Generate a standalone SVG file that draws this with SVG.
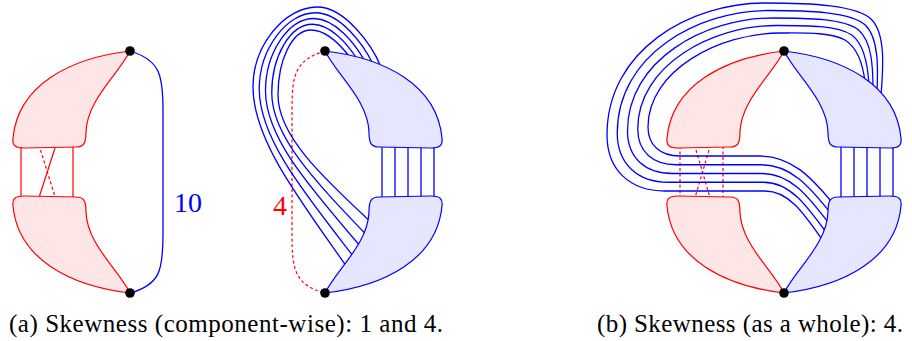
<svg xmlns="http://www.w3.org/2000/svg" xmlns:xlink="http://www.w3.org/1999/xlink" width="912" height="341" viewBox="0 0 912 341">
<style>
.rb{fill:#ffe6e6;stroke:#ff0000;stroke-width:1.2;stroke-linejoin:round}
.bb{fill:#e6e6ff;stroke:#0000ff;stroke-width:1.2;stroke-linejoin:round}
.bl{fill:none;stroke:#0000ff;stroke-width:1.3}
.rl{fill:none;stroke:#ff0000;stroke-width:1.2}
.rd{fill:none;stroke:#ff0000;stroke-width:1.2;stroke-dasharray:3 2.5}
.dot{fill:#000}
.tx{font-family:'Liberation Serif','Times New Roman',serif}
</style>
<defs>
<path id="blob" d="M0,0 C-60,7 -112,34 -117,87 C-118,95 -114,97 -106,97 L-54,96 C-46,96 -44,92 -44,81 C-43,49 -12,24 0,0 Z"/>
</defs>
<g id="connectors">
<path class="bl" d="M130,51 C160,60 163,75 163,110 L163,235 C163,270 160,285 130,293"/>
<line class="rl" x1="21" y1="146" x2="21" y2="198"/>
<line class="rl" x1="73" y1="146" x2="73" y2="198"/>
<line class="rl" x1="39.5" y1="196" x2="55" y2="148"/>
<line class="rd" x1="40.5" y1="150" x2="54.5" y2="195"/>
<path class="rd" d="M325,51 C295,60 292,75 292,110 L292,235 C292,270 295,285 325,293"/>
<g class="bl">
<line x1="382" y1="146" x2="382" y2="198"/>
<line x1="395" y1="146" x2="395" y2="198"/>
<line x1="408" y1="146" x2="408" y2="198"/>
<line x1="421" y1="146" x2="421" y2="198"/>
<line x1="434" y1="146" x2="434" y2="198"/>
<path d="M349,56 C338,42 325,30 311,30 C292,30 278,60 278,95 C278,135 320,175 373,224"/>
<path d="M357,58.75 C346.5,42.75 330,24.25 312.5,24.25 C290.25,24.25 271.75,56.25 271.75,93 C271.75,136.25 315,181.25 367,235.5"/>
<path d="M365,61.5 C355,43.5 335,18.5 314,18.5 C288.5,18.5 265.5,52.5 265.5,91 C265.5,137.5 310,187.5 361,247"/>
<path d="M373,64.25 C363.5,44.25 340,12.75 315.5,12.75 C286.75,12.75 259.25,48.75 259.25,89 C259.25,138.75 305,193.75 355,258.5"/>
<path d="M381,67 C372,45 345,7 317,7 C285,7 253,45 253,87 C253,140 300,200 349,270"/>
</g>
<line class="rd" x1="680" y1="146" x2="680" y2="198"/>
<line class="rd" x1="723" y1="146" x2="723" y2="198"/>
<line class="rd" x1="696" y1="150" x2="709.5" y2="196"/>
<line class="rd" x1="709" y1="150" x2="695.5" y2="196"/>
<g class="bl">
<line x1="841" y1="146" x2="841" y2="198"/>
<line x1="854" y1="146" x2="854" y2="198"/>
<line x1="867" y1="146" x2="867" y2="198"/>
<line x1="880" y1="146" x2="880" y2="198"/>
<line x1="893" y1="146" x2="893" y2="198"/>
<path d="M865,82 C863,65 858,48 845,40 C830,32 805,33 780,33 C720,33 648,70 648,127 C648,145 660,156 680,156 L760,156 C790,156 810,175 835,206"/>
<path d="M869,85.5 C868,66.25 865,44.75 851.75,35 C837,25.25 806.25,25.5 776.25,25.5 C712.5,25.5 637.75,65 637.75,129 C637.75,151.25 652.5,164.75 676.25,164.75 L761.25,164.75 C790,164.75 808.75,185 832.75,215.75"/>
<path d="M873,89 C873,67.5 872,41.5 858.5,30 C844,18.5 807.5,18 772.5,18 C705,18 627.5,60 627.5,131 C627.5,157.5 645,173.5 672.5,173.5 L762.5,173.5 C790,173.5 807.5,195 830.5,225.5"/>
<path d="M877,92.5 C878,68.75 879,38.25 865.25,25 C851,11.75 808.75,10.5 768.75,10.5 C697.5,10.5 617.25,55 617.25,133 C617.25,163.75 637.5,182.25 668.75,182.25 L763.75,182.25 C790,182.25 806.25,205 828.25,235.25"/>
<path d="M881,96 C883,70 886,35 872,20 C858,5 810,3 765,3 C690,3 607,50 607,135 C607,170 630,191 665,191 L765,191 C790,191 805,215 826,245"/>
</g>
</g>
<g id="labels" font-size="28">
<text class="tx" x="174" y="212" fill="#0000ff">10</text>
<text class="tx" x="273" y="215" fill="#ff0000">4</text>
</g>
<g id="a-red-top"><use xlink:href="#blob" class="rb" transform="translate(130,51)"/></g>
<g id="a-red-bottom"><use xlink:href="#blob" class="rb" transform="translate(130,293) scale(1,-1)"/></g>
<g id="a-blue-top"><use xlink:href="#blob" class="bb" transform="translate(325,51) scale(-1,1)"/></g>
<g id="a-blue-bottom"><use xlink:href="#blob" class="bb" transform="translate(325,293) scale(-1,-1)"/></g>
<g id="b-red-top"><use xlink:href="#blob" class="rb" transform="translate(784,51)"/></g>
<g id="b-red-bottom"><use xlink:href="#blob" class="rb" transform="translate(784,293) scale(1,-1)"/></g>
<g id="b-blue-top"><use xlink:href="#blob" class="bb" transform="translate(784,51) scale(-1,1)"/></g>
<g id="b-blue-bottom"><use xlink:href="#blob" class="bb" transform="translate(784,293) scale(-1,-1)"/></g>
<g id="a1-top-vertex"><circle class="dot" cx="130" cy="51" r="4.8"/></g>
<g id="a1-bottom-vertex"><circle class="dot" cx="130" cy="293" r="4.8"/></g>
<g id="a2-top-vertex"><circle class="dot" cx="325" cy="51" r="4.8"/></g>
<g id="a2-bottom-vertex"><circle class="dot" cx="325" cy="293" r="4.8"/></g>
<g id="b-top-vertex"><circle class="dot" cx="784" cy="51" r="4.8"/></g>
<g id="b-bottom-vertex"><circle class="dot" cx="784" cy="293" r="4.8"/></g>
<g id="captions" font-size="25" fill="#000">
<text class="tx" x="9" y="332" textLength="434" lengthAdjust="spacing">(a) Skewness (component-wise): 1 and 4.</text>
<text class="tx" x="597" y="332" textLength="306" lengthAdjust="spacing">(b) Skewness (as a whole): 4.</text>
</g>
</svg>
